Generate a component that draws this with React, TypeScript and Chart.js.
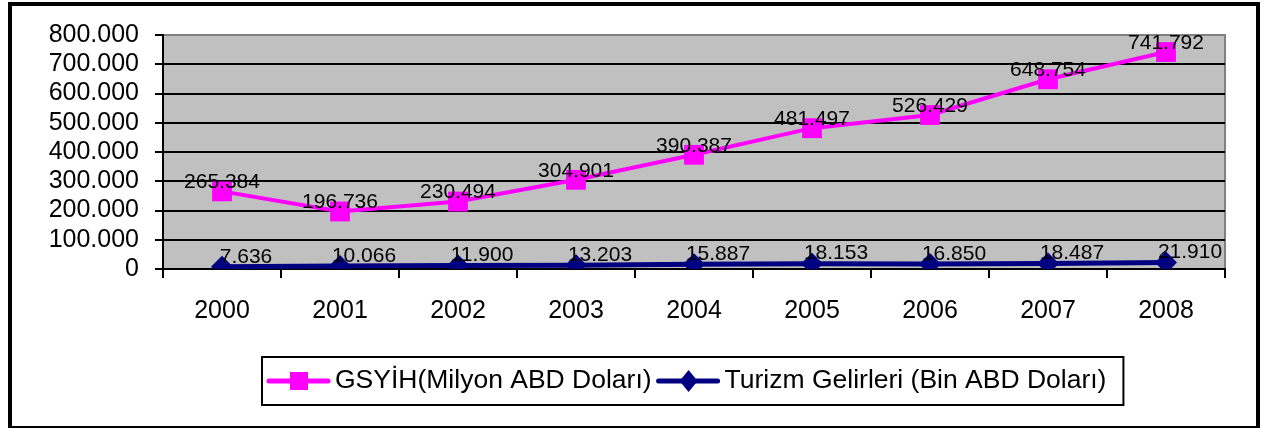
import React, { useEffect, useRef } from "react";
import { Chart, registerables } from "chart.js";

Chart.register(...registerables);

const years = ["2000", "2001", "2002", "2003", "2004", "2005", "2006", "2007", "2008"];
const gdpValues = [265384, 196736, 230494, 304901, 390387, 481497, 526429, 648754, 741792];
const tourismValues = [7636, 10066, 11900, 13203, 15887, 18153, 16850, 18487, 21910];
const gdpLabel = "GSYİH(Milyon ABD Doları)";
const tourismLabel = "Turizm Gelirleri (Bin ABD Doları)";

const FONT = '"Liberation Sans", Arial, sans-serif';
const MAGENTA = "#FF00FF";
const NAVY = "#000080";

function fmt(v: number): string {
  const s = Math.round(v).toString();
  return s.replace(/\B(?=(\d{3})+(?!\d))/g, ".");
}

const plotBgPlugin = {
  id: "plotBg",
  beforeDraw(chart: any) {
    const { ctx, chartArea } = chart;
    ctx.save();
    ctx.fillStyle = "#C0C0C0";
    ctx.fillRect(chartArea.left, chartArea.top, chartArea.right - chartArea.left, chartArea.bottom - chartArea.top);
    ctx.strokeStyle = "#808080";
    ctx.lineWidth = 2;
    ctx.beginPath();
    ctx.moveTo(chartArea.left, chartArea.top);
    ctx.lineTo(chartArea.right, chartArea.top);
    ctx.lineTo(chartArea.right, chartArea.bottom);
    ctx.stroke();
    ctx.restore();
  },
};

const valueLabelPlugin = {
  id: "valueLabels",
  afterDatasetsDraw(chart: any) {
    const { ctx } = chart;
    ctx.save();
    ctx.font = `21px ${FONT}`;
    ctx.fillStyle = "#000";
    ctx.textAlign = "center";
    ctx.textBaseline = "middle";
    chart.data.datasets.forEach((ds: any, di: number) => {
      const meta = chart.getDatasetMeta(di);
      const dx = di === 0 ? 0 : 24;
      const dy = di === 0 ? -9 : -10;
      meta.data.forEach((pt: any, i: number) => {
        ctx.fillText(fmt(ds.data[i]), pt.x + dx, pt.y + dy);
      });
    });
    ctx.restore();
  },
};

const boxLegendPlugin = {
  id: "boxLegend",
  afterDraw(chart: any) {
    const { ctx } = chart;
    const left = 262;
    const top = 357;
    const bottom = 405;
    const cy = (top + bottom) / 2;
    ctx.save();
    ctx.font = `26.5px ${FONT}`;
    const items = [
      { text: gdpLabel, color: MAGENTA, shape: "square" },
      { text: tourismLabel, color: NAVY, shape: "diamond" },
    ];
    let x = left + 7;
    const parts: any[] = [];
    items.forEach((it) => {
      const w = ctx.measureText(it.text).width;
      parts.push({ ...it, lineX: x, textX: x + 66, w });
      x = x + 66 + w + 7;
    });
    const right = x + 10;
    ctx.fillStyle = "#fff";
    ctx.fillRect(left, top, right - left, bottom - top);
    ctx.strokeStyle = "#000";
    ctx.lineWidth = 2;
    ctx.strokeRect(left, top, right - left, bottom - top);
    parts.forEach((p) => {
      ctx.strokeStyle = p.color;
      ctx.lineWidth = 5;
      ctx.lineCap = "round";
      ctx.beginPath();
      ctx.moveTo(p.lineX, cy);
      ctx.lineTo(p.lineX + 59, cy);
      ctx.stroke();
      ctx.fillStyle = p.color;
      const mx = p.lineX + 30;
      if (p.shape === "square") {
        ctx.fillRect(mx - 9, cy - 9, 18, 18);
      } else {
        ctx.beginPath();
        ctx.moveTo(mx - 9, cy);
        ctx.lineTo(mx, cy - 11);
        ctx.lineTo(mx + 9, cy);
        ctx.lineTo(mx, cy + 11);
        ctx.closePath();
        ctx.fill();
      }
      ctx.fillStyle = "#000";
      ctx.textAlign = "left";
      ctx.textBaseline = "middle";
      ctx.fillText(p.text, p.textX, cy);
    });
    ctx.restore();
  },
};

export default function App() {
  const canvasRef = useRef<HTMLCanvasElement | null>(null);

  useEffect(() => {
    if (!canvasRef.current) return;
    const chart = new Chart(canvasRef.current, {
      type: "line",
      data: {
        labels: years,
        datasets: [
          {
            label: gdpLabel,
            data: gdpValues,
            borderColor: MAGENTA,
            backgroundColor: MAGENTA,
            borderWidth: 4,
            pointStyle: "rect",
            pointRadius: 14,
            pointBorderWidth: 0,
            pointBackgroundColor: MAGENTA,
            tension: 0,
          },
          {
            label: tourismLabel,
            data: tourismValues,
            borderColor: NAVY,
            backgroundColor: NAVY,
            borderWidth: 5,
            pointStyle: "rectRot",
            pointRadius: 11,
            pointBorderWidth: 0,
            pointBackgroundColor: NAVY,
            tension: 0,
          },
        ],
      },
      options: {
        animation: false,
        responsive: true,
        maintainAspectRatio: false,
        layout: { padding: { left: 20, top: 35, right: 39, bottom: 109 } },
        plugins: {
          legend: { display: false },
          tooltip: { enabled: false },
        },
        scales: {
          x: {
            type: "category",
            offset: true,
            grid: {
              offset: true,
              drawOnChartArea: false,
              drawTicks: true,
              tickLength: 9,
              color: "#000",
              lineWidth: 2,
            },
            border: { display: true, color: "#000", width: 2 },
            ticks: {
              color: "#000",
              font: { family: FONT, size: 25 },
              padding: 18,
              maxRotation: 0,
              autoSkip: false,
            },
            afterFit(scale: any) {
              scale.height = 50;
            },
          },
          y: {
            min: 0,
            max: 800000,
            grid: {
              color: (c: any) => (c.tick && c.tick.value === 800000 ? "#808080" : "#000"),
              tickColor: "#000",
              lineWidth: 2,
              drawTicks: true,
              tickLength: 8,
            },
            border: { display: true, color: "#000", width: 2 },
            ticks: {
              stepSize: 100000,
              autoSkip: false,
              color: "#000",
              font: { family: FONT, size: 25 },
              padding: 16,
              callback: (v: any) => fmt(Number(v)),
            },
            afterFit(scale: any) {
              scale.width = 143;
            },
          },
        },
      },
      plugins: [plotBgPlugin, valueLabelPlugin, boxLegendPlugin],
    });
    return () => chart.destroy();
  }, []);

  return (
    <>
      <div style={{ position: "absolute", left: 0, top: 0, width: 1264, height: 428 }}>
        <canvas ref={canvasRef} />
      </div>
      <div
        style={{
          position: "absolute",
          left: 8,
          top: 2,
          width: 1252,
          height: 428,
          boxSizing: "border-box",
          border: "4px solid #000",
          pointerEvents: "none",
        }}
      />
    </>
  );
}
